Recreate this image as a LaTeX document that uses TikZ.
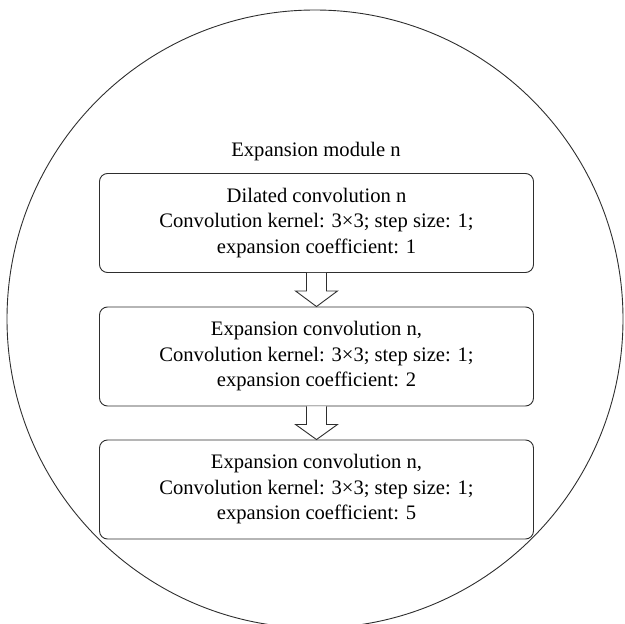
\documentclass[tikz,border=0pt]{standalone}
\usepackage{fontspec}
\setmainfont{Liberation Serif}
\usetikzlibrary{shapes.geometric,calc}

\definecolor{ink}{HTML}{2E2E2E}

\tikzset{
  module/.style={ellipse, draw=ink, line width=0.9pt, inner sep=0pt},
  layerbox/.style={draw=ink, line width=0.9pt, rounded corners=8pt,
    minimum width=434pt, minimum height=99pt, align=center,
    font=\fontsize{20.6}{25.5}\selectfont, inner sep=0pt},
  caption/.style={font=\fontsize{20.6}{25.5}\selectfont, inner sep=0pt},
  flow/.style={draw=ink, line width=0.9pt, fill=white, line join=miter}
}

% hollow block arrow pointing from #1 down to #2
\newcommand{\blockarrow}[2]{%
  \draw[flow]
    ($(#1.south)+(-10,0)$) -- ($(#1.south)+(-10,18)$) -- ($(#1.south)+(-21,18)$)
    -- (#2.north) -- ($(#1.south)+(21,18)$) -- ($(#1.south)+(10,18)$)
    -- ($(#1.south)+(10,0)$);
}

\begin{document}
\begin{tikzpicture}[x=1pt,y=-1pt]
  \useasboundingbox (0,0) rectangle (624,624);

  \node[module, minimum width=616pt, minimum height=618pt] (outer) at (315,319) {};
  \node[caption] (title) at (316,152) {Expansion module n};

  \node[layerbox] (b1) at (316.5,223)
    {Dilated convolution n\\Convolution kernel: 3×3; step size: 1;\\expansion coefficient: 1};
  \node[layerbox] (b2) at (316.5,356.5)
    {Expansion convolution n,\\Convolution kernel: 3×3; step size: 1;\\expansion coefficient: 2};
  \node[layerbox] (b3) at (316.5,489.5)
    {Expansion convolution n,\\Convolution kernel: 3×3; step size: 1;\\expansion coefficient: 5};

  \blockarrow{b1}{b2}
  \blockarrow{b2}{b3}
\end{tikzpicture}
\end{document}
